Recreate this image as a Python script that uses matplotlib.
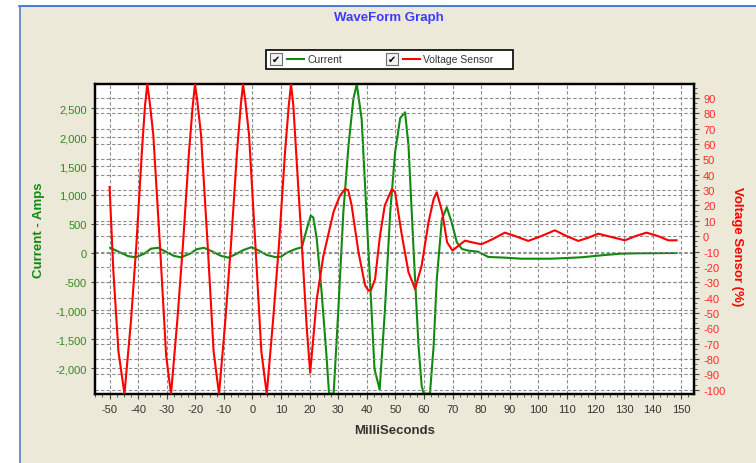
import numpy as np
import matplotlib
matplotlib.use("Agg")
import matplotlib.pyplot as plt
from matplotlib.ticker import MultipleLocator, FuncFormatter, AutoMinorLocator
from matplotlib.patches import Rectangle
from matplotlib.lines import Line2D

plt.rcParams["axes.unicode_minus"] = False

# time base (ms) and values
t_volt = [-50.0, -48.7, -46.9, -44.8, -42.5, -40.6, -38.7, -37.6, -36.8, -36.0, -34.7, -32.4,
          -30.2, -28.5, -26.3, -24.3, -22.2, -20.9, -20.1, -19.3, -18.0, -15.7, -13.6, -11.7,
          -9.5, -7.5, -5.4, -4.1, -3.3, -2.5, -1.2, 1.0, 3.1, 5.0, 7.2, 9.3,
          11.4, 12.7, 13.5, 14.3, 15.5, 17.3, 19.0, 20.2, 22.5, 24.8, 28.4, 30.5,
          32.4, 33.5, 34.7, 37.1, 39.4, 40.6, 41.5, 42.9, 44.6, 46.3,
          48.8, 49.9, 52.3, 54.6, 56.9, 59.2, 61.6, 63.4, 64.5, 66.4,
          68.1, 70.0, 72.1, 74.4, 76.8, 80.1, 84.0, 88.3, 92.0, 96.5,
          101.0, 105.8, 110.0, 114.0, 117.5, 121.0, 125.5, 130.3, 134.0, 137.9,
          142.0, 145.5, 148.4]
voltage = [32, -22, -75, -102.8, -55, -5, 55, 85, 99.1, 88, 66, -5,
           -78, -102.8, -55, -5, 55, 85, 99.1, 88, 66, -5, -75, -102.8,
           -55, -5, 55, 85, 99.1, 88, 66, -5, -75, -102.8, -55, -5,
           55, 85, 99.1, 85, 48, -6, -60, -89, -41, -13, 16, 26,
           30.7, 30, 20, -10.5, -32, -35.5, -35, -28, 0, 20,
           30.7, 28.6, 0.3, -23.5, -34.4, -19.2, 9.1, 24.2, 28.6, 15.6,
           -4, -9.4, -6.2, -2.9, -4, -5.3, -2, 2.3, 0, -3.1,
           0, 3.8, 0, -3.1, -1, 1.6, -0.5, -2.7, 0, 2.3,
           0, -2.7, -2.7]

t_curr = [-49.8, -46.5, -43.5, -40.8, -38.0, -35.5, -33.0, -30.0, -27.5, -25.0,
          -22.0, -19.5, -17.0, -14.0, -11.0, -8.5, -6.0, -3.0, -0.3, 2.5,
          5.0, 7.9, 10.0, 12.0, 14.9, 17.3, 19.0, 20.4, 21.3, 22.5,
          24.2, 25.9, 26.8, 28.4, 30.0, 31.8, 33.6, 35.3, 36.5, 38.2,
          40.0, 41.7, 42.7, 44.5, 46.3, 48.2, 49.9, 51.7, 53.4, 54.6,
          56.3, 58.1, 59.2, 59.9, 62.1, 63.4, 64.5, 66.3, 68.0, 69.7,
          71.5, 73.3, 75.6, 79.0, 82.5, 88.0, 94.0, 104.6, 115.0, 123.3,
          129.0, 135.0, 148.4]
current = [85, 10, -60, -80, -20, 70, 85, 10, -55, -80,
           -20, 60, 85, 20, -55, -85, -30, 50, 95, 30,
           -40, -75, -70, 0, 60, 95, 410, 641, 610, 237,
           -686, -1783, -2440, -2440, -1032, 699, 1852, 2660, 2920, 2314,
           583, -1032, -2013, -2370, -1032, 699, 1738, 2330, 2430, 1852,
           121, -1610, -2302, -2440, -2440, -1610, -455, 583, 786, 526,
           180, 64, 35, 17, -74, -85, -104, -104, -80, -40,
           -17, -10, -5]

W, H = 756, 464
fig = plt.figure(figsize=(W / 100, H / 100), dpi=100)
fig.patch.set_facecolor("white")

def fx(x):
    return x / W

def fy(y):
    return 1 - y / H

# panel background and border
fig.add_artist(Rectangle((fx(20), 0), 1, fy(7), transform=fig.transFigure,
                         facecolor="#ECE9D8", edgecolor="none", zorder=-5))
fig.add_artist(Line2D([fx(19), 1], [fy(6.5), fy(6.5)], transform=fig.transFigure,
                      color="#2B63E6", lw=1.2))
fig.add_artist(Line2D([fx(19.5), fx(19.5)], [0, fy(6.5)], transform=fig.transFigure,
                      color="#5A7EC8", lw=1.2))

ax = fig.add_axes([fx(95), fy(395), fx(694) - fx(95), fy(85) - fy(395)])
ax2 = ax.twinx()

green = "#0F8A0F"
red = "#FF0000"

ax.plot(t_curr, current, color=green, lw=1.5, zorder=3)
ax2.plot(t_volt, voltage, color=red, lw=1.5, zorder=3)

ax.set_xlim(-55.1, 154.5)
ax.set_ylim(-2446, 2920)
ax2.set_ylim(-102.8, 99.1)

ax.xaxis.set_major_locator(MultipleLocator(10))
ax.xaxis.set_minor_locator(MultipleLocator(2.5))
ax.yaxis.set_major_locator(MultipleLocator(500))
ax.yaxis.set_major_formatter(FuncFormatter(lambda v, p: f"{v:,.0f}"))
ax2.yaxis.set_major_locator(MultipleLocator(10))
ax2.yaxis.set_minor_locator(AutoMinorLocator(3))

tickfont = "Liberation Sans"
ax.tick_params(axis="x", which="major", length=3.5, width=0.8, pad=4,
               labelsize=8, labelcolor="#333333", color="#444444")
ax.tick_params(axis="x", which="minor", length=2.5, width=0.6, color="#444444")
ax.tick_params(axis="y", which="major", length=3, width=0.8, pad=3,
               labelsize=8, labelcolor="#2E8B22", color="#444444")
ax2.tick_params(axis="y", which="major", length=3.5, width=0.8, pad=3,
                labelsize=8, labelcolor="#FF2A2A", color="#444444")
ax2.tick_params(axis="y", which="minor", length=2, width=0.6, color="#444444")
for lab in ax.get_xticklabels() + ax.get_yticklabels() + ax2.get_yticklabels():
    lab.set_fontfamily(tickfont)

ax.grid(True, which="major", axis="both", color="#8C8C8C", ls=(0, (3, 2)), lw=0.8)
ax2.grid(True, which="major", axis="y", color="#8C8C8C", ls=(0, (3, 2)), lw=0.8)
ax.set_axisbelow(True)

for a in (ax, ax2):
    for s in a.spines.values():
        s.set_linewidth(1.6)
        s.set_color("black")

ax.set_ylabel("Current - Amps", color=green, fontsize=9.5, fontweight="bold",
              fontfamily="Liberation Sans")
ax.yaxis.set_label_coords(-0.083, 0.53)
ax2.set_ylabel("Voltage Sensor (%)", color=red, fontsize=9.5, fontweight="bold",
               fontfamily="Liberation Sans", rotation=-90, va="center")
ax2.yaxis.set_label_coords(1.072, 0.48)
ax.set_xlabel("MilliSeconds", color="#333333", fontsize=9.5, fontweight="bold",
              fontfamily="Liberation Sans")
ax.xaxis.set_label_coords(0.5008, -0.097)

fig.text(fx(389), fy(18), "WaveForm Graph", color="#3C3CFF", fontsize=9.5,
         fontweight="bold", fontfamily="Liberation Sans", ha="center", va="center")

# legend box
fig.add_artist(Rectangle((fx(266), fy(69.5)), fx(513) - fx(266), fy(51) - fy(69.5),
                         transform=fig.transFigure, facecolor="white",
                         edgecolor="black", lw=1.2, zorder=5))
legend_items = [("Current", green, 270), ("Voltage Sensor", red, 386)]
for name, col, x0 in legend_items:
    fig.add_artist(Rectangle((fx(x0), fy(66)), fx(12), fy(54) - fy(66),
                             transform=fig.transFigure, facecolor="#F4F4F4",
                             edgecolor="#6E6E6E", lw=0.8, zorder=6))
    fig.text(fx(x0 + 6), fy(60), "\u2714", fontsize=7, color="black",
             ha="center", va="center", zorder=7, fontfamily="DejaVu Sans")
    fig.add_artist(Line2D([fx(x0 + 17), fx(x0 + 34)], [fy(60), fy(60)],
                          transform=fig.transFigure, color=col, lw=1.5, zorder=6))
    fig.text(fx(x0 + 37), fy(60), name, fontsize=7.5, color="#333333",
             ha="left", va="center", zorder=7, fontfamily="Liberation Sans")

fig.savefig("out.png", dpi=100, facecolor=fig.get_facecolor())
